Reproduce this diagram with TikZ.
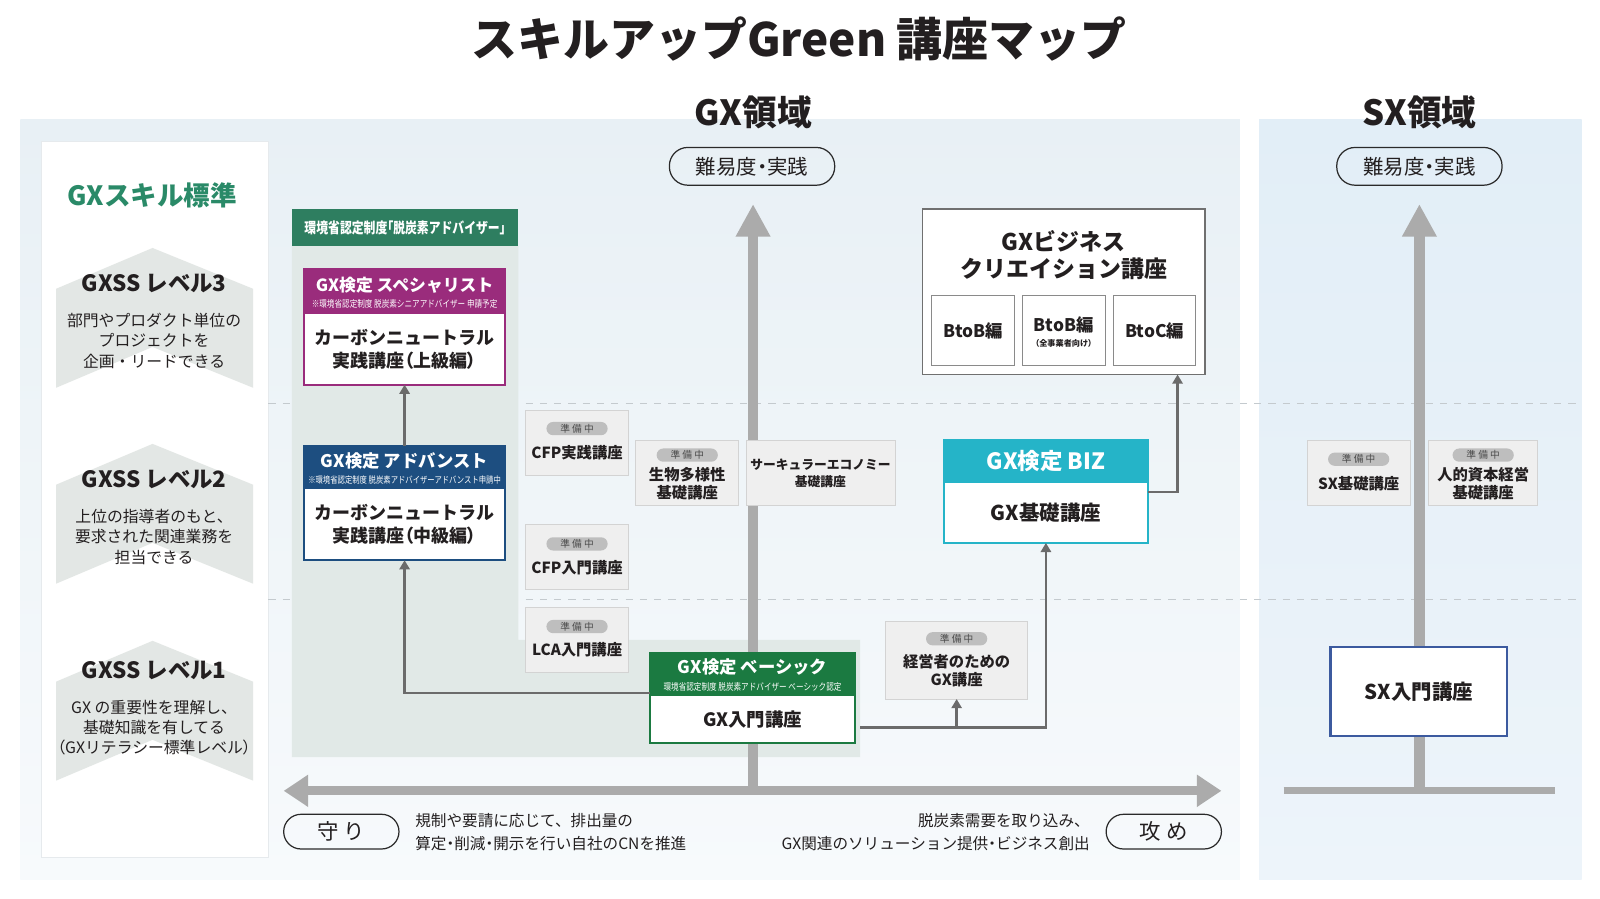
\documentclass[tikz,border=0pt]{standalone}
\usepackage{fontspec}
\setmainfont{Noto Sans CJK JP}
\newfontfamily\condfont{Noto Sans CJK JP}[FakeStretch=0.8]
\usetikzlibrary{arrows.meta,calc}
\newcommand\fsz[2]{\fontsize{#1}{#2}\selectfont}
\newcommand\pl[1]{{\addfontfeatures{RawFeature=+palt}#1}}
\definecolor{ink}{HTML}{231F20}
\definecolor{gxg}{HTML}{2A8A68}
\definecolor{purp}{HTML}{9A2C7C}
\definecolor{navy}{HTML}{1D4E80}
\definecolor{basicg}{HTML}{1B7A41}
\definecolor{cyanb}{HTML}{25B4C8}
\definecolor{advbg}{HTML}{E1E9E7}
\definecolor{advhd}{HTML}{2E7E60}
\definecolor{chev}{HTML}{E3E7E5}
\definecolor{gbg}{HTML}{EFEFEF}
\definecolor{gbd}{HTML}{D3D3D3}
\definecolor{bdg}{HTML}{BEBEBE}
\definecolor{bdtx}{HTML}{4A4A4A}
\definecolor{connc}{HTML}{6B6B6B}
\definecolor{arrc}{HTML}{ABABAB}
\definecolor{dashc}{HTML}{C4CACE}
\definecolor{pillc}{HTML}{2A2A2A}
\definecolor{sxbd}{HTML}{3C5A9F}
\definecolor{gxt}{HTML}{E8F0F5}
\definecolor{gxb}{HTML}{F7FAFC}
\definecolor{sxt}{HTML}{E2EEF7}
\definecolor{sxb}{HTML}{EDF4FA}
\definecolor{outbd}{HTML}{707070}
\definecolor{inbd}{HTML}{8A8A8A}
\definecolor{panelbd}{HTML}{E6EAED}
\begin{document}
\begin{tikzpicture}[x=1pt,y=-1pt,
  every node/.style={inner sep=0pt,outer sep=0pt,text=ink},
  gbox/.style={draw=gbd, fill=gbg, line width=0.8pt},
  badge/.style={fill=bdg, rounded corners=6.5pt, minimum width=60pt, minimum height=13pt, text=bdtx, font=\fsz{9.5}{10}},
  gtext/.style={font=\bfseries\fsz{15}{17.5}, align=center},
  hdr/.style={text=white, align=center},
  body/.style={fill=white, align=center},
  conn/.style={draw=connc, line width=2.6pt, -{Triangle[width=10pt,length=9pt]}},
  bigarrow/.style={draw=arrc, line width=10pt},
  pill/.style={draw=pillc, line width=1.2pt, rounded corners=18pt, minimum height=37pt, font=\fsz{20}{21}},
  lvl/.style={font=\bfseries\fsz{22}{24}},
  lvldesc/.style={font=\fsz{15.5}{20}, align=center},
  dline/.style={draw=dashc, line width=0.8pt, dash pattern=on 7pt off 7pt},
]
\useasboundingbox (0,0) rectangle (1568,881);
\fill[white] (0,0) rectangle (1568,881);
\shade[top color=gxt, bottom color=gxb] (20,117) rectangle (1215,862);
\shade[top color=sxt, bottom color=sxb] (1234,117) rectangle (1550,862);

% title
\node[font=\bfseries\fsz{45}{48}] (title) at (783,38) {スキルアップGreen 講座マップ};

% left panel
\node[fill=white, draw=panelbd, line width=0.6pt, minimum width=223pt, minimum height=702pt, anchor=north west] (panel) at (40,138) {};
\node[font=\bfseries\fsz{26}{28}, text=gxg] (skstd) at (149,191) {GXスキル標準};
\foreach \t in {243,435,628} {
  \fill[chev] (55,\t+40) -- (149.5,\t) -- (248,\t+40) -- (248,\t+137) -- (149.5,\t+97) -- (55,\t+137) -- cycle;
}
\node[lvl] (l3) at (151,278) {GXSS レベル3};
\node[lvldesc] (l3d) at (151,334) {部門やプロダクト単位の\\プロジェクトを\\企画・リードできる};
\node[lvl] (l2) at (151,470) {GXSS レベル2};
\node[lvldesc] (l2d) at (151,526) {上位の指導者のもと、\\要求された関連業務を\\担当できる};
\node[lvl] (l1) at (151,657) {GXSS レベル1};
\node[lvldesc] (l1d) at (151,713) {GX の重要性を理解し、\\基礎知識を有してる\\\pl{（}GXリテラシー標準レベル\pl{）}};

% region titles and pills
\node[font=\bfseries\fsz{34}{36}] (gxr) at (738,110) {GX領域};
\node[font=\bfseries\fsz{34}{36}] (sxr) at (1391,110) {SX領域};
\node[pill, minimum width=162pt] (gxpill) at (737,163) {難易度\pl{・}実践};
\node[pill, minimum width=162pt] (sxpill) at (1391,163) {難易度\pl{・}実践};

% dashed level lines
\coordinate (d1a) at (263,395); \coordinate (d1b) at (1550,395);
\coordinate (d2a) at (263,587); \coordinate (d2b) at (1550,587);
\draw[dline] (d1a) -- (d1b);
\draw[dline] (d2a) -- (d2b);

% advisor panel
\fill[advbg] (286,241) -- (508,241) -- (508,627) -- (843,627) -- (843,742) -- (286,742) -- cycle;
\node[fill=advhd, minimum width=222pt, minimum height=36pt, anchor=north west, text=white, font=\condfont\bfseries\fsz{14.5}{16}] (advhdr) at (286,205) {環境省認定制度\pl{「}脱炭素アドバイザー\pl{」}};

% big axes
\coordinate (gxbot) at (738,775); \coordinate (gxtop) at (738,200);
\coordinate (hl) at (278,775); \coordinate (hr) at (1197,775);
\coordinate (sxbot) at (1391,775); \coordinate (sxtop) at (1391,200);
\coordinate (sxl) at (1258,775); \coordinate (sxr2) at (1524,775);
\draw[bigarrow, line width=9pt, {Triangle[width=30pt,length=24pt]}-{Triangle[width=30pt,length=24pt]}] (hl) -- (hr);
\draw[bigarrow, -{Triangle[width=32pt,length=32pt]}] (gxbot) -- (gxtop);
\draw[bigarrow, line width=7pt] (sxl) -- (sxr2);
\draw[bigarrow, -{Triangle[width=32pt,length=32pt]}] (sxbot) -- (sxtop);

% specialist
\node[hdr, fill=purp, minimum width=197pt, minimum height=44pt, anchor=north] (spech) at (396.5,264) {};
\node[font=\bfseries\fsz{16.5}{18}, text=white] (spect) at (396.5,280) {GX検定 スペシャリスト};
\node[font=\condfont\fsz{9.3}{10}, text=white] (specs) at (396.5,298) {※環境省認定制度 脱炭素シニアアドバイザー 申請予定};
\node[body, minimum width=197pt, minimum height=69pt, anchor=north, font=\bfseries\fsz{17.6}{23}] (specb) at (spech.south) {カーボンニュートラル\\実践講座\pl{（}上級編\pl{）}};
\draw[purp, line width=1.8pt] (spech.north west) rectangle (specb.south east);

% advanced
\node[hdr, fill=navy, minimum width=197pt, minimum height=42pt, anchor=north] (advh) at (396.5,437) {};
\node[font=\bfseries\fsz{17}{18}, text=white] (advt) at (396.5,452) {GX検定 アドバンスト};
\node[font=\condfont\fsz{9}{10}, text=white] (advs) at (396.5,470) {※環境省認定制度 脱炭素アドバイザーアドバンスト申請中};
\node[body, minimum width=197pt, minimum height=70pt, anchor=north, font=\bfseries\fsz{17.6}{23}] (advb) at (advh.south) {カーボンニュートラル\\実践講座\pl{（}中級編\pl{）}};
\draw[navy, line width=1.8pt] (advh.north west) rectangle (advb.south east);

% basic
\node[hdr, fill=basicg, minimum width=201pt, minimum height=42pt, anchor=north] (basich) at (737.5,640) {};
\node[font=\bfseries\fsz{17}{18}, text=white] (basict) at (737.5,654) {GX検定 ベーシック};
\node[font=\condfont\fsz{9.3}{10}, text=white] (basics) at (737.5,673) {環境省認定制度 脱炭素アドバイザー ベーシック認定};
\node[body, minimum width=201pt, minimum height=46pt, anchor=north, font=\bfseries\fsz{18}{20}] (basicb) at (basich.south) {GX入門講座};
\draw[basicg, line width=1.8pt] (basich.north west) rectangle (basicb.south east);

% BIZ
\node[hdr, fill=cyanb, minimum width=200pt, minimum height=42pt, anchor=north, font=\bfseries\fsz{22}{24}] (bizh) at (1025,431) {GX検定 BIZ};
\node[body, minimum width=200pt, minimum height=59pt, anchor=north, font=\bfseries\fsz{20}{22}] (bizb) at (bizh.south) {GX基礎講座};
\draw[cyanb, line width=2pt] (bizh.north west) rectangle (bizb.south east);

% GX business creation
\node[fill=white, draw=outbd, line width=1.4pt, minimum width=277pt, minimum height=162pt, anchor=north west] (gxbz) at (904,205) {};
\node[font=\bfseries\fsz{22.5}{27}, align=center] (gxbzt) at (1042.5,250) {GXビジネス\\クリエイション講座};
\node[draw=inbd, line width=1pt, fill=white, minimum width=81pt, minimum height=68pt, font=\bfseries\fsz{17}{18}] (bb1) at (953.5,324) {BtoB編};
\node[draw=inbd, line width=1pt, fill=white, minimum width=81pt, minimum height=68pt] (bb2) at (1042.5,324) {};
\node[font=\bfseries\fsz{17}{18}] (bb2t) at (1042.5,318) {BtoB編};
\node[font=\bfseries\fsz{8}{9}] (bb2s) at (1042.5,337) {\pl{（}全事業者向け\pl{）}};
\node[draw=inbd, line width=1pt, fill=white, minimum width=81pt, minimum height=68pt, font=\bfseries\fsz{17}{18}] (bb3) at (1131.5,324) {BtoC編};

% grey boxes (in preparation)
\node[gbox, minimum width=101pt, minimum height=64pt] (cfpj) at (565.5,434) {};
\node[badge] (cfpjb) at (565.5,420) {準 備 中};
\node[gtext] (cfpjt) at (565.5,444) {CFP実践講座};

\node[gbox, minimum width=101pt, minimum height=63pt] (bio) at (673.5,463.5) {};
\node[badge] (biob) at (673.5,446) {準 備 中};
\node[gtext] (biot) at (673.5,474) {生物多様性\\基礎講座};

\node[gbox, minimum width=146pt, minimum height=63pt] (circ) at (804,463.5) {};
\node[font=\bfseries\fsz{12.5}{16}, align=center] (circt) at (804,464) {サーキュラーエコノミー\\基礎講座};

\node[gbox, minimum width=101pt, minimum height=64pt] (cfpi) at (565.5,546) {};
\node[badge] (cfpib) at (565.5,533) {準 備 中};
\node[gtext] (cfpit) at (565.5,556) {CFP入門講座};

\node[gbox, minimum width=101pt, minimum height=64pt] (lca) at (565.5,627) {};
\node[badge] (lcab) at (565.5,614) {準 備 中};
\node[gtext] (lcat) at (565.5,637) {LCA入門講座};

\node[gbox, minimum width=139pt, minimum height=76pt] (keiei) at (937.5,647) {};
\node[badge] (keieib) at (937.5,626) {準 備 中};
\node[gtext] (keieit) at (937.5,657) {経営者のための\\GX講座};

\node[gbox, minimum width=101pt, minimum height=63pt] (sxk) at (1331.5,463.5) {};
\node[badge] (sxkb) at (1331.5,450) {準 備 中};
\node[gtext] (sxkt) at (1331.5,474) {SX基礎講座};

\node[gbox, minimum width=107pt, minimum height=63pt] (jin) at (1453.5,463.5) {};
\node[badge] (jinb) at (1453.5,446) {準 備 中};
\node[gtext] (jint) at (1453.5,474) {人的資本経営\\基礎講座};

% SX intro
\node[fill=white, draw=sxbd, line width=2.4pt, minimum width=173pt, minimum height=87pt, font=\bfseries\fsz{20}{22}] (sxin) at (1390.5,677.5) {SX入門講座};

% connectors
\draw[conn] (advh.north) -- (specb.south);
\coordinate (yl) at (0,679);
\draw[conn] (basich.west |- yl) -| (advb.south);
\coordinate (bstart) at (843,713);
\draw[conn] (bstart) -| (bizb.south);
\draw[conn] (bstart -| keiei.south) -- (keiei.south);
\draw[conn] ($(bizb.north east)+(0,9)$) -| ($(gxbz.south east)+(-27,0)$);

% bottom pills and descriptions
\node[draw=pillc, line width=1.2pt, rounded corners=17pt, minimum width=113pt, minimum height=34pt, font=\fsz{21}{22}] (mamori) at (334.5,815) {守 り};
\node[draw=pillc, line width=1.2pt, rounded corners=17pt, minimum width=113pt, minimum height=34pt, font=\fsz{21}{22}] (seme) at (1140.5,815) {攻 め};
\node[font=\fsz{15.3}{23}, align=left, anchor=west] (ldesc) at (407,815.5) {規制や要請に応じて、排出量の\\算定\pl{・}削減\pl{・}開示を行い自社のCNを推進};
\node[font=\fsz{15.3}{23}, align=right, anchor=east] (rdesc) at (1068,815.5) {脱炭素需要を取り込み、\\GX関連のソリューション提供\pl{・}ビジネス創出};
\end{tikzpicture}
\end{document}
